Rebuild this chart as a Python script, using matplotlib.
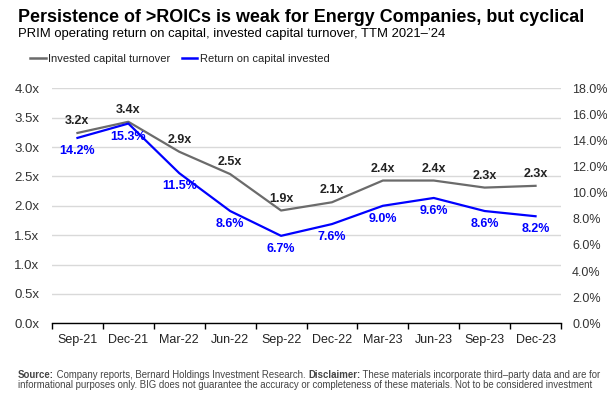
import matplotlib
matplotlib.use("Agg")
import matplotlib.pyplot as plt
from matplotlib.lines import Line2D

plt.rcParams['font.family'] = ['Liberation Sans', 'DejaVu Sans']

categories = ["Sep-21", "Dec-21", "Mar-22", "Jun-22", "Sep-22",
              "Dec-22", "Mar-23", "Jun-23", "Sep-23", "Dec-23"]
turnover = [3.24, 3.43, 2.92, 2.54, 1.92, 2.06, 2.43, 2.43, 2.31, 2.34]
roic = [14.2, 15.3, 11.5, 8.6, 6.7, 7.6, 9.0, 9.6, 8.6, 8.2]
left_ticks = [0.0, 0.5, 1.0, 1.5, 2.0, 2.5, 3.0, 3.5, 4.0]
right_ticks = [0, 2, 4, 6, 8, 10, 12, 14, 16, 18]

title = "Persistence of >ROICs is weak for Energy Companies, but cyclical"
subtitle = "PRIM operating return on capital, invested capital turnover, TTM 2021\u2013\u201924"
series_names = ["Invested capital turnover", "Return on capital invested"]
foot_lines = [
    [("Source:", "bold"),
     (" Company reports, Bernard Holdings Investment Research. ", "normal"),
     ("Disclaimer:", "bold"),
     (" These materials incorporate third\u2013party data and are for", "normal")],
    [("informational purposes only. BIG does not guarantee the accuracy or "
      "completeness of these materials. Not to be considered investment", "normal")],
]

GRAY = "#6b6b6b"
BLUE = "#0000ff"
TXT = "#333333"

W, H = 607, 400
fig = plt.figure(figsize=(W / 100, H / 100), dpi=100)
ax = fig.add_axes([52 / W, 1 - 323.3 / H, (561 - 52) / W, (323.3 - 88.3) / H])
ax2 = ax.twinx()

x = list(range(len(categories)))

ax.set_xlim(-0.5, len(categories) - 0.5)
ax.set_ylim(0, 4)
ax2.set_ylim(0, 18)

ax.set_yticks(left_ticks)
ax.set_yticklabels([f"{v:.1f}x" for v in left_ticks])
ax2.set_yticks(right_ticks)
ax2.set_yticklabels([f"{v:.1f}%" for v in right_ticks])

ax.yaxis.grid(True, color="#d9d9d9", linewidth=1.0)
ax.set_axisbelow(True)

for a in (ax, ax2):
    for s in ("top", "left", "right", "bottom"):
        a.spines[s].set_visible(False)

ax.spines["bottom"].set_visible(True)
ax.spines["bottom"].set_color("#000000")
ax.spines["bottom"].set_linewidth(1.0)

ax.tick_params(axis="y", length=0, labelsize=9.5, labelcolor=TXT, pad=9)
ax2.tick_params(axis="y", length=0, labelsize=9, labelcolor=TXT, pad=8)

ax.set_xticks(x)
ax.set_xticklabels(categories)
ax.set_xticks([i - 0.5 for i in range(len(categories) + 1)], minor=True)
ax.tick_params(axis="x", which="major", length=0, labelsize=9, labelcolor="#222222", pad=8)
ax.tick_params(axis="x", which="minor", length=4, width=1.0, color="#000000", direction="out")

ax.plot(x, turnover, color=GRAY, linewidth=1.6, zorder=3)
ax2.plot(x, roic, color=BLUE, linewidth=1.6, zorder=3)

for xi, v in zip(x, turnover):
    ax.annotate(f"{v:.1f}x", (xi, v), xytext=(0, 12), textcoords="offset pixels",
                ha="center", va="center", fontsize=9, fontweight="bold", color="#222222")
for xi, v in zip(x, roic):
    ax2.annotate(f"{v:.1f}%", (xi, v), xytext=(0, -13), textcoords="offset pixels",
                 ha="center", va="center", fontsize=9, fontweight="bold", color=BLUE)

fig.text(18 / W, 1 - 18 / H, title, fontsize=12.9, fontweight="bold", color="#000000",
         ha="left", va="center")
fig.text(18 / W, 1 - 33.5 / H, subtitle, fontsize=9.4, color="#000000", ha="left", va="center")

handles = [Line2D([], [], color=GRAY, linewidth=1.8),
           Line2D([], [], color=BLUE, linewidth=1.8)]
fig.legend(handles, series_names, loc="center left", bbox_to_anchor=(30 / W, 1 - 59.3 / H),
           ncol=2, frameon=False, fontsize=8, handlelength=1.4, handletextpad=0.25,
           columnspacing=1.0, labelcolor="#222222", borderaxespad=0, borderpad=0)

# footnote with bold segments, chained left-to-right
FOOT_FS = 6.9
foot_y = [375, 385.5]
for line, yy in zip(foot_lines, foot_y):
    prev = None
    for txt, wt in line:
        if prev is None:
            prev = fig.text(18 / W, 1 - yy / H, txt, fontsize=FOOT_FS, fontweight=wt,
                            color="#444444", ha="left", va="center")
        else:
            prev = fig.add_artist(matplotlib.text.Annotation(
                txt, xy=(1, 0.5), xycoords=prev, fontsize=FOOT_FS, fontweight=wt,
                color="#444444", ha="left", va="center", annotation_clip=False))

fig.savefig("out.png", dpi=100)
